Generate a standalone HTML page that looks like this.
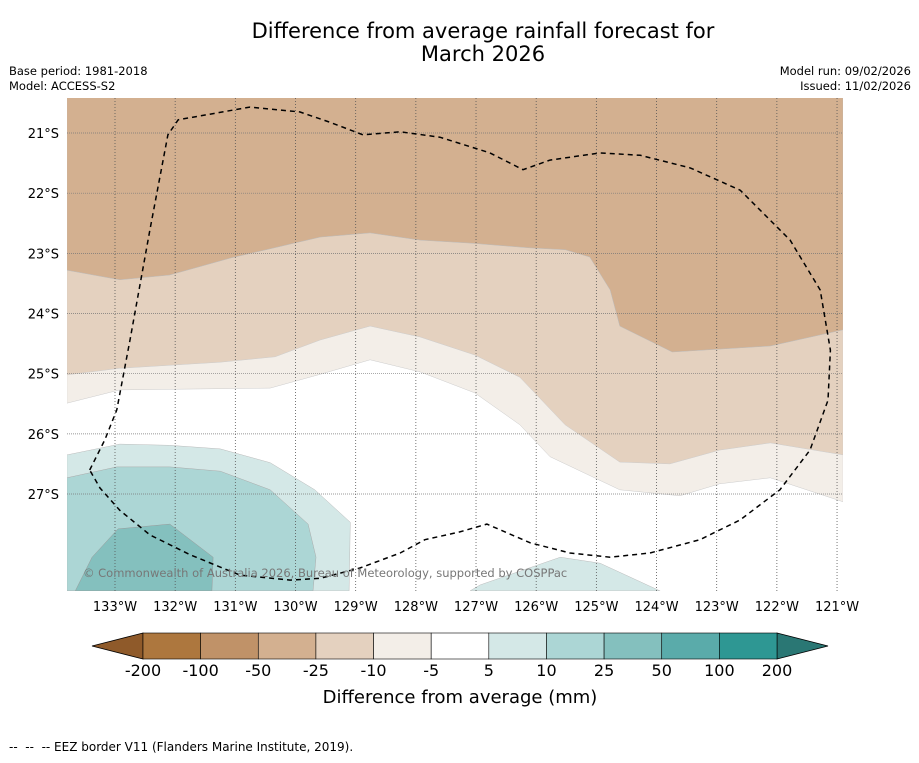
<!DOCTYPE html>
<html><head><meta charset="utf-8"><style>
body{margin:0;background:#fff;font-family:"Liberation Sans","DejaVu Sans",sans-serif}
svg text{font-family:"DejaVu Sans","Liberation Sans",sans-serif}
</style></head><body>
<svg id="c" width="919" height="758" xmlns="http://www.w3.org/2000/svg">
<rect width="919" height="758" fill="#fff"/>
<text x="483" y="38" font-size="21" text-anchor="middle">Difference from average rainfall forecast for</text>
<text x="483" y="61" font-size="21" text-anchor="middle">March 2026</text>
<text x="9" y="75" font-size="11.5">Base period: 1981-2018</text>
<text x="9" y="90" font-size="11.5">Model: ACCESS-S2</text>
<text x="911" y="75" font-size="11.5" text-anchor="end">Model run: 09/02/2026</text>
<text x="911" y="90" font-size="11.5" text-anchor="end">Issued: 11/02/2026</text>
<defs><clipPath id="mc"><rect x="67" y="98" width="776" height="493"/></clipPath></defs>
<g id="map" clip-path="url(#mc)"></g>
<g id="axes"></g>
<g id="cbar"></g>
<text x="460" y="703" font-size="18" text-anchor="middle">Difference from average (mm)</text>
<text x="9" y="751" font-size="12">--&#160;&#160;--&#160;&#160;-- EEZ border V11 (Flanders Marine Institute, 2019).</text>
</svg>
<script>
// ---- data (lon in °W, lat in °S) ----
const lonTicks=[133,132,131,130,129,128,127,126,125,124,123,122,121];
const latTicks=[21,22,23,24,25,26,27];
const cbLevels=["-200","-100","-50","-25","-10","-5","5","10","25","50","100","200"];
const cbColors=["#ad773e","#c09268","#d3b090","#e4d1bf","#f3eee8","#ffffff","#d4e8e7","#acd6d5","#84c0be","#5aabaa","#2e9793"];
const lineM10Lon=[133.8,132.92,130.42,129.59,128.76,127.93,127.02,126.27,125.77,124.61,123.61,122.95,122.11,120.9];
const lineM10Lat=[25.49,25.27,25.24,25.01,24.77,24.97,25.32,25.85,26.38,26.93,27.03,26.83,26.73,27.13];
const lineM25Lon=[133.8,132.92,131.25,130.34,129.59,128.76,127.93,127.02,126.27,125.52,124.61,123.78,122.95,122.11,120.9];
const lineM25Lat=[25.02,24.91,24.81,24.72,24.44,24.21,24.39,24.69,25.06,25.85,26.47,26.50,26.27,26.15,26.35];
const lineM50Lon=[133.8,132.92,132.09,131.09,129.59,128.76,127.93,127.10,126.10,125.52,125.11,124.77,124.61,123.74,122.11,120.9];
const lineM50Lat=[23.28,23.44,23.36,23.08,22.73,22.66,22.78,22.83,22.91,22.94,23.06,23.61,24.21,24.64,24.54,24.27];
const teal5Lon=[133.8,132.92,132.09,131.25,130.42,129.68,129.09,129.11,133.8];
const teal5Lat=[26.35,26.17,26.19,26.25,26.48,26.93,27.47,28.61,28.61];
const teal5bLon=[127.10,126.93,125.60,124.94,123.94];
const teal5bLat=[28.61,28.51,28.05,28.15,28.61];
const teal10Lon=[133.8,132.97,132.09,131.25,130.42,129.79,129.66,129.71,133.8];
const teal10Lat=[26.73,26.55,26.55,26.62,26.93,27.50,28.05,28.61,28.61];
const teal25Lon=[133.66,133.38,132.95,132.09,131.37,131.39];
const teal25Lat=[28.61,28.05,27.58,27.50,28.05,28.61];
const eezLon=[133.42,133.17,132.97,132.75,132.42,132.12,131.95,130.76,129.93,129.43,128.88,128.26,127.60,126.77,126.22,125.77,124.94,124.27,123.44,122.61,121.78,121.28,121.11,121.15,121.45,121.95,122.61,123.28,124.11,124.77,125.44,126.10,126.82,127.27,127.85,128.26,128.93,129.59,130.09,130.92,131.75,132.42,132.92,133.25,133.42];
const eezLat=[26.60,26.10,25.60,24.44,22.61,21.03,20.78,20.57,20.65,20.82,21.03,20.98,21.07,21.33,21.61,21.45,21.33,21.37,21.58,21.95,22.78,23.61,24.61,25.44,26.27,26.93,27.43,27.76,27.98,28.05,27.98,27.81,27.50,27.63,27.76,27.98,28.23,28.40,28.43,28.35,28.01,27.68,27.27,26.90,26.60];
// ---- axis functions ----
const X=lon=>115+(133-lon)*60.17;
const Y=lat=>133+(lat-21)*60.17;
const NS="http://www.w3.org/2000/svg";
function mk(tag,attrs,parent){const e=document.createElementNS(NS,tag);for(const k in attrs)e.setAttribute(k,attrs[k]);parent.appendChild(e);return e;}
const map=document.getElementById('map'),axes=document.getElementById('axes'),cbar=document.getElementById('cbar');
function pts(lo,la){return lo.map((v,i)=>X(v).toFixed(1)+','+Y(la[i]).toFixed(1)).join(' ');}
function above(lo,la){return pts(lo,la)+' '+X(lo[lo.length-1])+','+Y(20)+' '+X(lo[0])+','+Y(20);}
let p;
p=mk('rect',{x:67,y:98,width:776,height:493,fill:'#fff'},map);


p=mk('polygon',{points:above(lineM10Lon,lineM10Lat),fill:'#f3eee8',stroke:'#ccc','stroke-width':0.5},map);


p=mk('polygon',{points:above(lineM25Lon,lineM25Lat),fill:'#e4d1bf',stroke:'#ccc','stroke-width':0.5},map);


p=mk('polygon',{points:above(lineM50Lon,lineM50Lat),fill:'#d3b090',stroke:'#bbb','stroke-width':0.5},map);


p=mk('polygon',{points:pts(teal5Lon,teal5Lat),fill:'#d4e8e7',stroke:'#bbb','stroke-width':0.5},map);


p=mk('polygon',{points:pts(teal5bLon,teal5bLat),fill:'#d4e8e7',stroke:'#bbb','stroke-width':0.5},map);


p=mk('polygon',{points:pts(teal10Lon,teal10Lat),fill:'#acd6d5',stroke:'#aaa','stroke-width':0.5},map);


p=mk('polygon',{points:pts(teal25Lon,teal25Lat),fill:'#84c0be',stroke:'#999','stroke-width':0.5},map);


lonTicks.forEach(l=>{
 const g=mk('line',{x1:X(l),x2:X(l),y1:98,y2:591,stroke:'#555','stroke-width':0.8,'stroke-dasharray':'1,2'},map);
 
 
 const t=mk('text',{x:X(l),y:611,'font-size':13,'text-anchor':'middle'},axes);t.textContent=l+'°W';
 
 
});
latTicks.forEach(l=>{
 const g=mk('line',{x1:67,x2:843,y1:Y(l),y2:Y(l),stroke:'#777','stroke-width':0.7,'stroke-dasharray':'1,1'},map);
 
 
 const t=mk('text',{x:59,y:Y(l)+5,'font-size':13,'text-anchor':'end'},axes);t.textContent=l+'°S';
 
 
});
p=mk('polyline',{points:pts(eezLon,eezLat),fill:'none',stroke:'#000','stroke-width':1.5,'stroke-dasharray':'5,4'},map);


p=mk('text',{x:83,y:577,'font-size':11.5,fill:'#777'},map);p.textContent='© Commonwealth of Australia 2026, Bureau of Meteorology, supported by COSPPac';


const cbX0=143,cbX1=777,cbY=633,cbH=26,bw=(cbX1-cbX0)/cbColors.length;
p=mk('polygon',{points:`${cbX0},${cbY} 92,${cbY+cbH/2} ${cbX0},${cbY+cbH}`,fill:'#8f5a2a',stroke:'#000','stroke-width':0.8},cbar);


p=mk('polygon',{points:`${cbX1},${cbY} 828,${cbY+cbH/2} ${cbX1},${cbY+cbH}`,fill:'#2a7774',stroke:'#000','stroke-width':0.8},cbar);


cbColors.forEach((c,i)=>{
 const r=mk('rect',{x:cbX0+i*bw,y:cbY,width:bw,height:cbH,fill:c,stroke:'#000','stroke-width':0.6},cbar);
 
 
});
cbLevels.forEach((s,i)=>{
 const t=mk('text',{x:cbX0+i*bw,y:676,'font-size':16,'text-anchor':'middle'},cbar);t.textContent=s;
 
 
});
</script>
</body></html>
